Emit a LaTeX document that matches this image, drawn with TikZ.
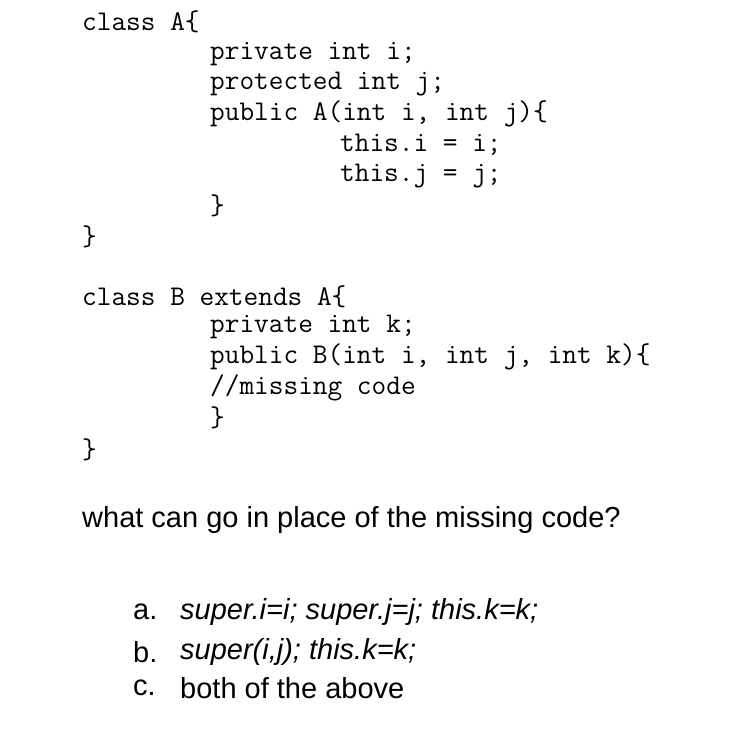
\documentclass[tikz,border=0pt]{standalone}
\usepackage{fontspec}
\setmainfont{Liberation Sans}
\begin{document}
\begin{tikzpicture}[x=1pt,y=-1pt,
  code/.style={anchor=west,inner sep=0pt,font=\ttfamily\fontsize{28.5}{30}\selectfont},
  prose/.style={anchor=west,inner sep=0pt,font=\fontsize{29}{32}\selectfont},
  opt/.style={anchor=west,inner sep=0pt,font=\fontsize{29}{32}\selectfont\itshape}]
\useasboundingbox (0,0) rectangle (730,736);
\node[code] (a1) at (82,22) {class A\{};
\node[code] (a2) at (210,54) {private int i;};
\node[code] (a3) at (210,84) {protected int j;};
\node[code] (a4) at (210,114) {public A(int i, int j)\{};
\node[code] (a5) at (340,145) {this.i = i;};
\node[code] (a6) at (340,176) {this.j = j;};
\node[code] (a7) at (210,206) {\}};
\node[code] (a8) at (82,237) {\}};
\node[code] (b1) at (82,297) {class B extends A\{};
\node[code] (b2) at (210,327) {private int k;};
\node[code] (b3) at (210,357) {public B(int i, int j, int k)\{};
\node[code] (b4) at (210,388) {//missing code};
\node[code] (b5) at (210,418) {\}};
\node[code] (b6) at (82,450) {\}};
\node[prose] (q) at (82,520) {what can go in place of the missing code?};
\node[prose] (la) at (133,612) {a.};
\node[opt] (oa) at (180,612) {super.i=i; super.j=j; this.k=k;};
\node[prose] (lb) at (133,652) {b.};
\node[opt] (ob) at (180,652) {super(i,j); this.k=k;};
\node[prose] (lc) at (133,688) {c.};
\node[prose] (oc) at (180,688) {both of the above};
\end{tikzpicture}
\end{document}
